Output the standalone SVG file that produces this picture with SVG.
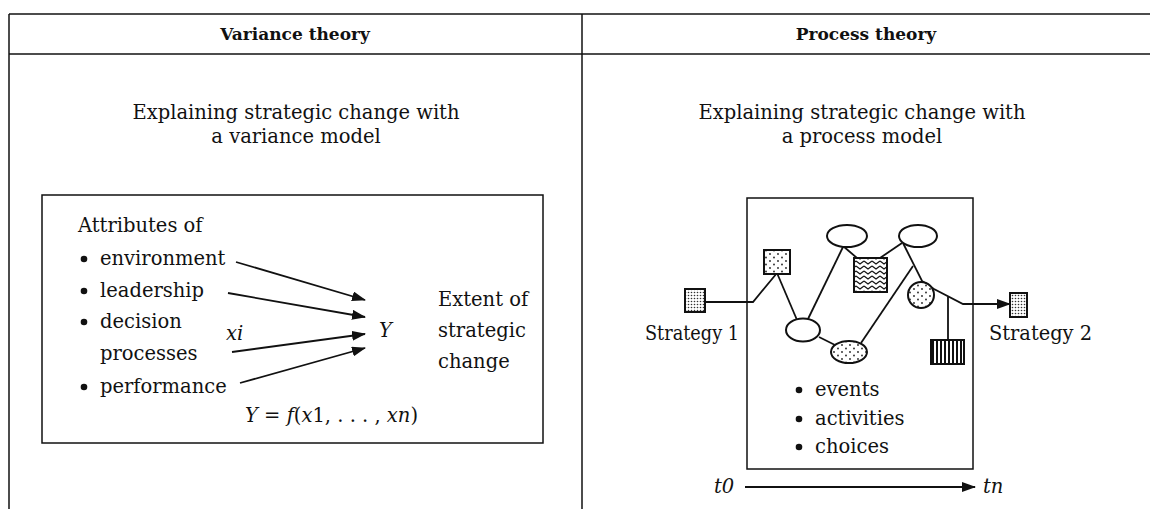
<svg xmlns="http://www.w3.org/2000/svg" width="1150" height="509" viewBox="0 0 1150 509">
<style>
.t{font-family:"DejaVu Serif","Liberation Serif",serif;font-size:19.5px;fill:#111}
.h{font-family:"DejaVu Serif","Liberation Serif",serif;font-size:17px;font-weight:bold;fill:#111}
.i{font-style:italic}
.ln{stroke:#111;stroke-width:1.8;fill:none}
.fr{stroke:#111;stroke-width:1.5;fill:none}
.sh{stroke:#111;stroke-width:2;fill:#fff}
</style>
<defs>
<marker id="ah" markerWidth="14" markerHeight="10" refX="13" refY="5" orient="auto" markerUnits="userSpaceOnUse">
<path d="M0,0 L14,5 L0,10 Z" fill="#111"/>
</marker>
<pattern id="dense" width="3" height="3" patternUnits="userSpaceOnUse">
<rect width="3" height="3" fill="#fff"/><circle cx="1.5" cy="1.5" r="0.8" fill="#333"/>
</pattern>
<pattern id="sparse" width="8" height="7" patternUnits="userSpaceOnUse">
<rect width="8" height="7" fill="#fff"/><circle cx="2" cy="2" r="0.9" fill="#222"/><circle cx="6" cy="5.5" r="0.9" fill="#222"/>
</pattern>
<pattern id="wavy" width="8" height="5" patternUnits="userSpaceOnUse">
<rect width="8" height="5" fill="#fff"/><path d="M0,1 L4,4 L8,1" stroke="#111" stroke-width="1.2" fill="none"/>
</pattern>
<pattern id="stripes" width="4" height="4" patternUnits="userSpaceOnUse">
<rect width="4" height="4" fill="#fff"/><rect x="0" y="0" width="2" height="4" fill="#111"/>
</pattern>
</defs>

<g id="frame">
<line class="fr" x1="9" y1="14" x2="1150" y2="14"/>
<line class="fr" x1="9" y1="54" x2="1150" y2="54"/>
<line class="fr" x1="9" y1="14" x2="9" y2="509"/>
<line class="fr" x1="582" y1="14" x2="582" y2="509"/>
</g>

<g id="variance-header">
<text class="h" x="295" y="40" text-anchor="middle">Variance theory</text>
</g>
<g id="process-header">
<text class="h" x="866" y="40" text-anchor="middle">Process theory</text>
</g>

<g id="variance-title">
<text class="t" x="296" y="119" text-anchor="middle" font-size="20">Explaining strategic change with</text>
<text class="t" x="296" y="143" text-anchor="middle" font-size="20">a variance model</text>
</g>
<g id="process-title">
<text class="t" x="862" y="119" text-anchor="middle" font-size="20">Explaining strategic change with</text>
<text class="t" x="862" y="143" text-anchor="middle" font-size="20">a process model</text>
</g>

<g id="variance-box">
<rect class="fr" x="42" y="195" width="501" height="248"/>
</g>

<g id="attributes">
<text class="t" x="78" y="232">Attributes of</text>
<circle cx="84" cy="259" r="3.3" fill="#111"/>
<text class="t" x="100" y="265">environment</text>
<circle cx="84" cy="291" r="3.3" fill="#111"/>
<text class="t" x="100" y="297">leadership</text>
<circle cx="84" cy="322" r="3.3" fill="#111"/>
<text class="t" x="100" y="328">decision</text>
<text class="t" x="100" y="360">processes</text>
<circle cx="84" cy="387" r="3.3" fill="#111"/>
<text class="t" x="100" y="393">performance</text>
</g>

<g id="xi-label"><text class="t i" x="226" y="340">xi</text></g>
<g id="Y-node"><text class="t i" x="379" y="337">Y</text></g>
<g id="extent">
<text class="t" x="438" y="306">Extent of</text>
<text class="t" x="438" y="337">strategic</text>
<text class="t" x="438" y="368">change</text>
</g>
<g id="equation">
<text class="t" x="245" y="422"><tspan class="i">Y</tspan> = <tspan class="i">f</tspan>(<tspan class="i">x</tspan>1, . . . , <tspan class="i">xn</tspan>)</text>
</g>

<g id="process-box">
<rect class="fr" x="747" y="198" width="226" height="271"/>
</g>

<g id="connectors">
<line class="ln" x1="236" y1="262" x2="365" y2="300" marker-end="url(#ah)"/>
<line class="ln" x1="228" y1="293" x2="365" y2="317" marker-end="url(#ah)"/>
<line class="ln" x1="232" y1="352" x2="365" y2="334" marker-end="url(#ah)"/>
<line class="ln" x1="240" y1="383" x2="365" y2="348" marker-end="url(#ah)"/>

<polyline class="ln" points="705,302 753,302 777,273"/>
<line class="ln" x1="777" y1="273" x2="797" y2="320"/>
<line class="ln" x1="808" y1="319" x2="843" y2="247"/>
<line class="ln" x1="843" y1="246" x2="857" y2="258"/>
<line class="ln" x1="880" y1="258" x2="902" y2="243"/>
<polyline class="ln" points="903,243 922,281 934,289 963,304 1010,304" marker-end="url(#ah)"/>
<line class="ln" x1="948" y1="297" x2="948" y2="340" stroke-width="1.3"/>
<line class="ln" x1="819" y1="337" x2="835" y2="345"/>
<line class="ln" x1="861" y1="343" x2="913" y2="266"/>

<line class="ln" x1="745" y1="487" x2="975" y2="487" stroke-width="1.5" marker-end="url(#ah)"/>
</g>

<g id="strategy1">
<rect x="685" y="289" width="20" height="23" fill="url(#dense)" stroke="#111" stroke-width="2"/>
<text class="t" x="645" y="340" textLength="94" lengthAdjust="spacingAndGlyphs">Strategy 1</text>
</g>
<g id="strategy2">
<rect x="1010" y="293" width="17" height="24" fill="url(#dense)" stroke="#111" stroke-width="2"/>
<text class="t" x="989" y="340" textLength="103" lengthAdjust="spacingAndGlyphs">Strategy 2</text>
</g>

<g id="dotted-square"><rect x="764" y="250" width="26" height="24" fill="url(#sparse)" stroke="#111" stroke-width="2"/></g>
<g id="ellipse-1"><ellipse class="sh" cx="803" cy="330" rx="17" ry="11.5"/></g>
<g id="ellipse-top-1"><ellipse class="sh" cx="847" cy="236" rx="20" ry="11"/></g>
<g id="ellipse-top-2"><ellipse class="sh" cx="918" cy="236" rx="19" ry="11"/></g>
<g id="wavy-box"><rect x="854" y="258" width="33" height="34" fill="url(#wavy)" stroke="#111" stroke-width="2"/></g>
<g id="dotted-ellipse"><ellipse cx="849" cy="352" rx="18" ry="11" fill="url(#sparse)" stroke="#111" stroke-width="2"/></g>
<g id="dotted-circle"><circle cx="921" cy="295" r="13" fill="url(#sparse)" stroke="#111" stroke-width="2"/></g>
<g id="striped-box"><rect x="931" y="340" width="33" height="24" fill="url(#stripes)" stroke="#111" stroke-width="2"/></g>

<g id="process-items">
<circle cx="799" cy="390" r="3.3" fill="#111"/>
<text class="t" x="815" y="396">events</text>
<circle cx="799" cy="419" r="3.3" fill="#111"/>
<text class="t" x="815" y="425">activities</text>
<circle cx="799" cy="447" r="3.3" fill="#111"/>
<text class="t" x="815" y="453">choices</text>
</g>

<g id="time-axis">
<text class="t i" x="714" y="493">t0</text>
<text class="t i" x="983" y="493">tn</text>
</g>
</svg>
